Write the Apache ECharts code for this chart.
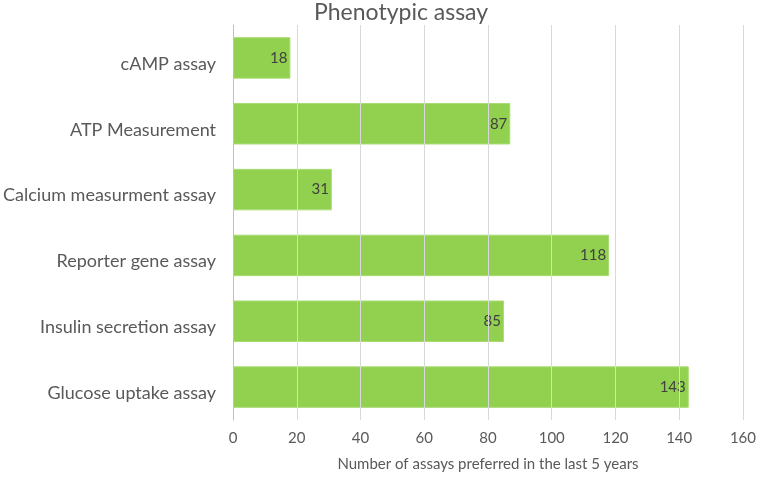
<!DOCTYPE html>
<html>
<head>
<meta charset="utf-8">
<script src="https://cdn.jsdelivr.net/npm/echarts@6/dist/echarts.min.js"></script>
<style>
  html, body { margin: 0; padding: 0; background: #fff; }
  #main { width: 759px; height: 477px; }
</style>
</head>
<body>
<div id="main"></div>
<script>
// assay categories, top to bottom
var categories = ['cAMP assay', 'ATP Measurement', 'Calcium measurment assay',
    'Reporter gene assay', 'Insulin secretion assay', 'Glucose uptake assay'];
var counts = [18, 87, 31, 118, 85, 143];

var chart = echarts.init(document.getElementById('main'));
var font = 'Lato, "Open Sans", sans-serif';

var option = {
    animation: false,
    title: {
        text: 'Phenotypic assay',
        left: 309,
        top: -4,
        textStyle: { fontFamily: font, fontSize: 23, fontWeight: 'normal', color: '#595959' }
    },
    grid: { left: 232, right: 16, top: 25, bottom: 54, containLabel: false },
    xAxis: {
        type: 'value',
        min: 0,
        max: 160,
        interval: 20,
        z: 3,
        name: 'Number of assays preferred in the last 5 years',
        nameLocation: 'middle',
        nameGap: 37,
        nameTextStyle: { fontFamily: font, fontSize: 15, color: '#595959' },
        axisLine: { show: false },
        axisTick: { show: false },
        axisLabel: { fontFamily: font, fontSize: 15, color: '#595959', margin: 11 },
        splitLine: { lineStyle: { color: '#d9d9d9', width: 1 } }
    },
    yAxis: {
        type: 'category',
        data: categories,
        inverse: true,
        z: 3,
        axisLine: { lineStyle: { color: '#bfbfbf' } },
        axisTick: { show: false },
        axisLabel: {
            margin: 17,
            formatter: '{c|{value}}',
            rich: {
                c: {
                    fontFamily: font, fontSize: 18, color: '#595959',
                    padding: [12, 0, 0, 0]
                }
            }
        }
    },
    series: [{
        type: 'bar',
        data: counts,
        barCategoryGap: '37%',
        itemStyle: { color: '#92d050', borderColor: '#a9dc73', borderWidth: 1 },
        label: {
            show: true,
            position: 'insideRight',
            distance: 3,
            fontFamily: font,
            fontSize: 15,
            color: '#404040'
        }
    }]
};

chart.setOption(option);
</script>
</body>
</html>
